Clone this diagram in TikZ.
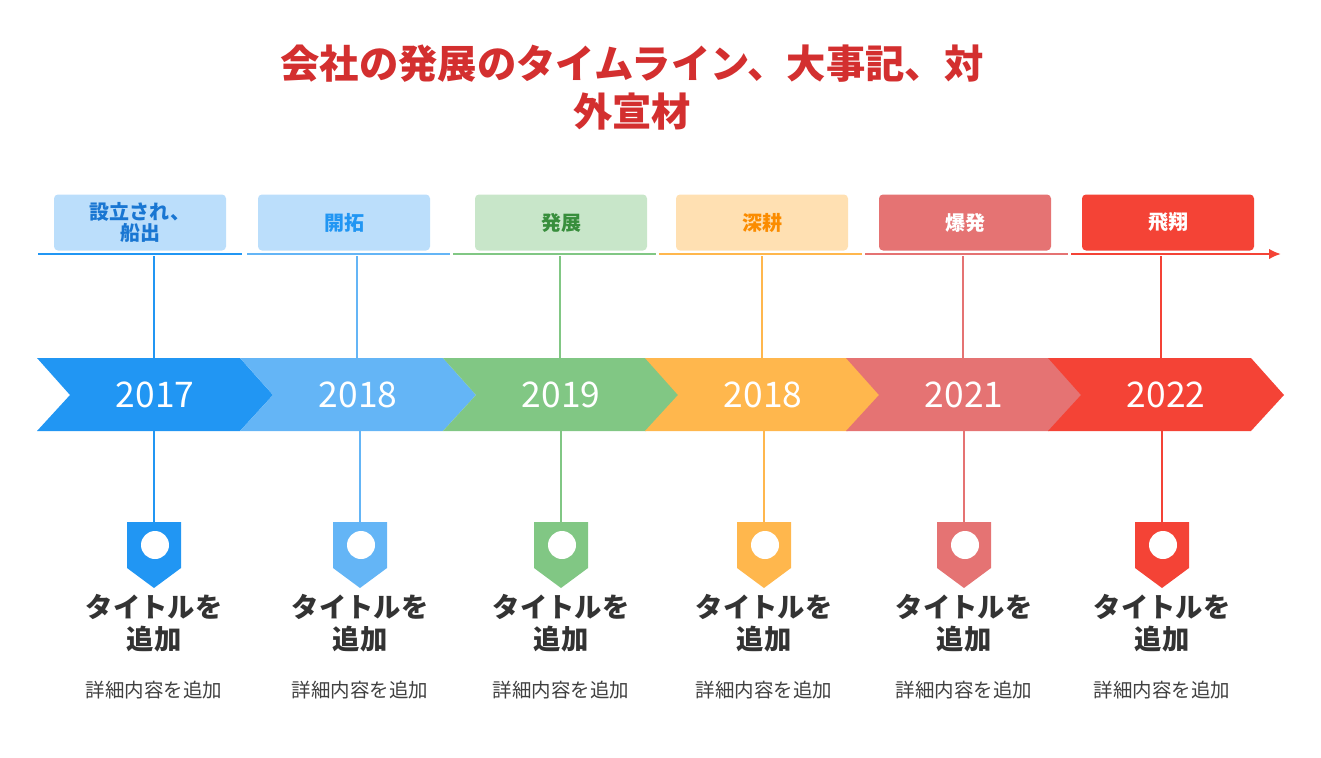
\documentclass[tikz,border=0pt]{standalone}
\usepackage{fontspec}
\usetikzlibrary{arrows.meta}
\setmainfont{Noto Sans CJK JP}
\begin{document}
\begin{tikzpicture}[x=0.75pt,y=-0.75pt,
  yeartxt/.style={text=white,font=\fontsize{26.5}{28}\selectfont},
  lblbox/.style={rounded corners=3pt,minimum width=129pt,minimum height=42pt,align=center,font=\bfseries\fontsize{15}{16}\selectfont,inner sep=0pt},
  ttl/.style={align=center,text=black!80,font=\bfseries\fontsize{20.5}{24}\selectfont},
  det/.style={text=black!75,font=\fontsize{14.6}{16}\selectfont}]
\useasboundingbox (0,0) rectangle (1321,757);
\definecolor{c1}{HTML}{2196F3}\definecolor{c2}{HTML}{64B5F6}\definecolor{c3}{HTML}{81C784}
\definecolor{c4}{HTML}{FFB74D}\definecolor{c5}{HTML}{E57373}\definecolor{c6}{HTML}{F44336}
\definecolor{f1}{HTML}{BBDEFB}\definecolor{f3}{HTML}{C8E6C9}\definecolor{f4}{HTML}{FFE0B2}
\definecolor{t1}{HTML}{1976D2}\definecolor{t3}{HTML}{388E3C}\definecolor{t4}{HTML}{FB8C00}
\definecolor{tr}{HTML}{D32F2F}
\node[text=tr,font=\bfseries\fontsize{29.5}{36}\selectfont,align=center] (title) at (632,88) {会社の発展のタイムライン、大事記、対\\外宣材};
\foreach \i/\s/\xa/\xb/\bx/\c/\f/\t/\yr/\lb/\ha/\hb in {
 1/37/154/154/140/c1/f1/t1/2017/{設立され、\\船出}/38/242,
 2/240/357/360/344/c2/f1/c1/2018/開拓/247/450,
 3/443/560/561/561/c3/f3/t3/2019/発展/453/656,
 4/645/762/764/762/c4/f4/t4/2018/深耕/659/862,
 5/846/963/964/965/c5/c5/white/2021/爆発/865/1068,
 6/1048/1161/1162/1168/c6/c6/white/2022/飛翔/1071/1265}{
  \fill[\c] (\s,358) -- (\s+203,358) -- (\s+236,395) -- (\s+203,431) -- (\s,431) -- (\s+33,395) -- cycle;
  \node[yeartxt] (y\i) at (\s+118,395) {\yr};
  \node[lblbox,fill=\f,text=\t] (b\i) at (\bx,222.5) {\lb};
  \draw[\c,line width=2.2pt] (\ha,254) -- (\hb,254);
  \coordinate (ht\i) at (\xa,256);
  \coordinate (at\i) at (\xa,358);
  \coordinate (ab\i) at (\xb,431);
  \coordinate (pt\i) at (\xb,522);
  \draw[\c,line width=1.6pt] (ht\i) -- (at\i);
  \draw[\c,line width=1.6pt] (ab\i) -- (pt\i);
  \fill[\c] (\xb-27,522) -- (\xb+27,522) -- (\xb+27,568) -- (\xb,588) -- (\xb-27,568) -- cycle;
  \fill[white] (\xb+1,545) circle (14);
  \node[ttl] (tt\i) at (\xb,623) {タイトルを\\追加};
  \node[det] (d\i) at (\xb,690) {詳細内容を追加};
}
\coordinate (ae0) at (1260,254);
\coordinate (ae1) at (1281,254);
\draw[c6,line width=2.2pt,-{Latex[length=9pt,width=8pt]}] (ae0) -- (ae1);
\end{tikzpicture}
\end{document}
